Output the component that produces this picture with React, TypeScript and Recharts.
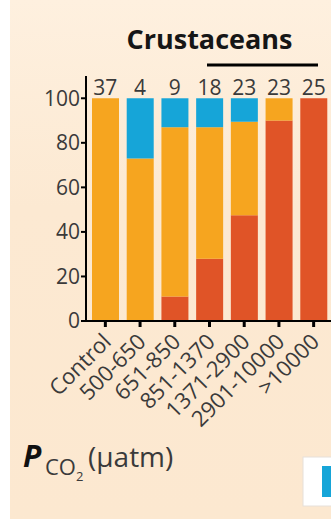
import React from 'react';
import { BarChart, Bar, XAxis, YAxis } from 'recharts';

// pCO2 treatment classes (µatm) and number of studies per class
const categories = ['Control', '500-650', '651-850', '851-1370', '1371-2900', '2901-10000', '>10000'];
const counts = [37, 4, 9, 18, 23, 23, 25];

// Share of responses (%) stacked bottom to top: red, orange, blue
const redShare = [0, 0, 11, 28, 47.5, 90, 100];
const orangeShare = [100, 73, 76, 59, 42, 10, 0];
const blueShare = [0, 27, 13, 13, 10.5, 0, 0];

const yTicks = [0, 20, 40, 60, 80, 100];

const RED = '#E05427';
const ORANGE = '#F6A51F';
const BLUE = '#16A5D8';
const TEXT = '#3a3a3a';
const FONT = '"Open Sans", "Noto Sans", sans-serif';

const data = categories.map((name, i) => ({
  name,
  n: counts[i],
  red: redShare[i],
  orange: orangeShare[i],
  blue: blueShare[i],
}));

const XTick = (props: any) => {
  const { x, y, payload } = props;
  return (
    <g transform={`translate(${x + 7},${y + 14})`}>
      <text
        textAnchor="end"
        transform="rotate(-45)"
        fontFamily={FONT}
        fontSize={22}
        fill={TEXT}
      >
        {payload.value}
      </text>
    </g>
  );
};

// study counts, printed just above the 100 % line of each column
const CountTick = (props: any) => {
  const { x, y, index } = props;
  return (
    <text
      x={x}
      y={y + 19}
      textAnchor="middle"
      fontFamily={FONT}
      fontSize={21}
      fill={TEXT}
    >
      {counts[index]}
    </text>
  );
};

export default function App() {
  return (
    <div
      style={{
        position: 'absolute',
        left: 0,
        top: 0,
        width: 331,
        height: 519,
        background: '#ffffff',
        overflow: 'hidden',
      }}
    >
      <div
        style={{
          position: 'absolute',
          left: 10,
          top: 0,
          width: 321,
          height: 519,
          background: 'linear-gradient(#FEF0DF, #FCE9D2 40%, #FCE8D0)',
        }}
      />
      <div style={{ position: 'absolute', left: 0, top: 0 }}>
        <BarChart
          width={331}
          height={519}
          data={data}
          margin={{ top: 56, right: 0, bottom: 0, left: 0 }}
          barSize={27}
        >
          <XAxis
            xAxisId="count"
            orientation="top"
            dataKey="name"
            interval={0}
            height={20}
            padding={{ left: 2, right: 0 }}
            axisLine={false}
            tickLine={false}
            tickSize={0}
            tickMargin={0}
            tick={<CountTick />}
          />
          <XAxis
            dataKey="name"
            interval={0}
            height={198}
            padding={{ left: 2, right: 0 }}
            axisLine={{ stroke: '#000', strokeWidth: 2 }}
            tickLine={{ stroke: '#000', strokeWidth: 3 }}
            tickSize={6}
            tick={<XTick />}
          />
          <YAxis
            width={86}
            domain={[0, 110]}
            ticks={yTicks}
            interval={0}
            axisLine={{ stroke: '#000', strokeWidth: 2 }}
            tickLine={{ stroke: '#000', strokeWidth: 2 }}
            tickSize={5}
            tickMargin={1}
            tick={{ fontFamily: FONT, fontSize: 21, fill: TEXT }}
          />
          <Bar dataKey="red" stackId="s" fill={RED} isAnimationActive={false} />
          <Bar dataKey="orange" stackId="s" fill={ORANGE} isAnimationActive={false} />
          <Bar dataKey="blue" stackId="s" fill={BLUE} isAnimationActive={false} />
        </BarChart>
      </div>
      <svg
        width={331}
        height={519}
        style={{ position: 'absolute', left: 0, top: 0, pointerEvents: 'none' }}
      >
        <text
          x={209.5}
          y={49}
          textAnchor="middle"
          fontFamily={FONT}
          fontWeight={700}
          fontSize={27}
          fill="#161616"
        >
          Crustaceans
        </text>
        <line x1={207} x2={318} y1={65} y2={65} stroke="#000" strokeWidth={3} />
        <text x={23} y={467} fontFamily={FONT} fontWeight={700} fontStyle="italic" fontSize={30} fill="#111">
          P
        </text>
        <text x={45} y={475} fontFamily={FONT} fontSize={22} fill={TEXT}>
          CO
        </text>
        <text x={76} y={481} fontFamily={FONT} fontSize={13} fill={TEXT}>
          2
        </text>
        <text x={88} y={467} fontFamily={FONT} fontSize={28} fill={TEXT}>
          (µatm)
        </text>
        <rect x={303} y={457} width={40} height={49} fill="#ffffff" stroke="#e6e0da" strokeWidth={1} />
        <rect x={322} y={466} width={20} height={31} fill={BLUE} />
      </svg>
    </div>
  );
}
